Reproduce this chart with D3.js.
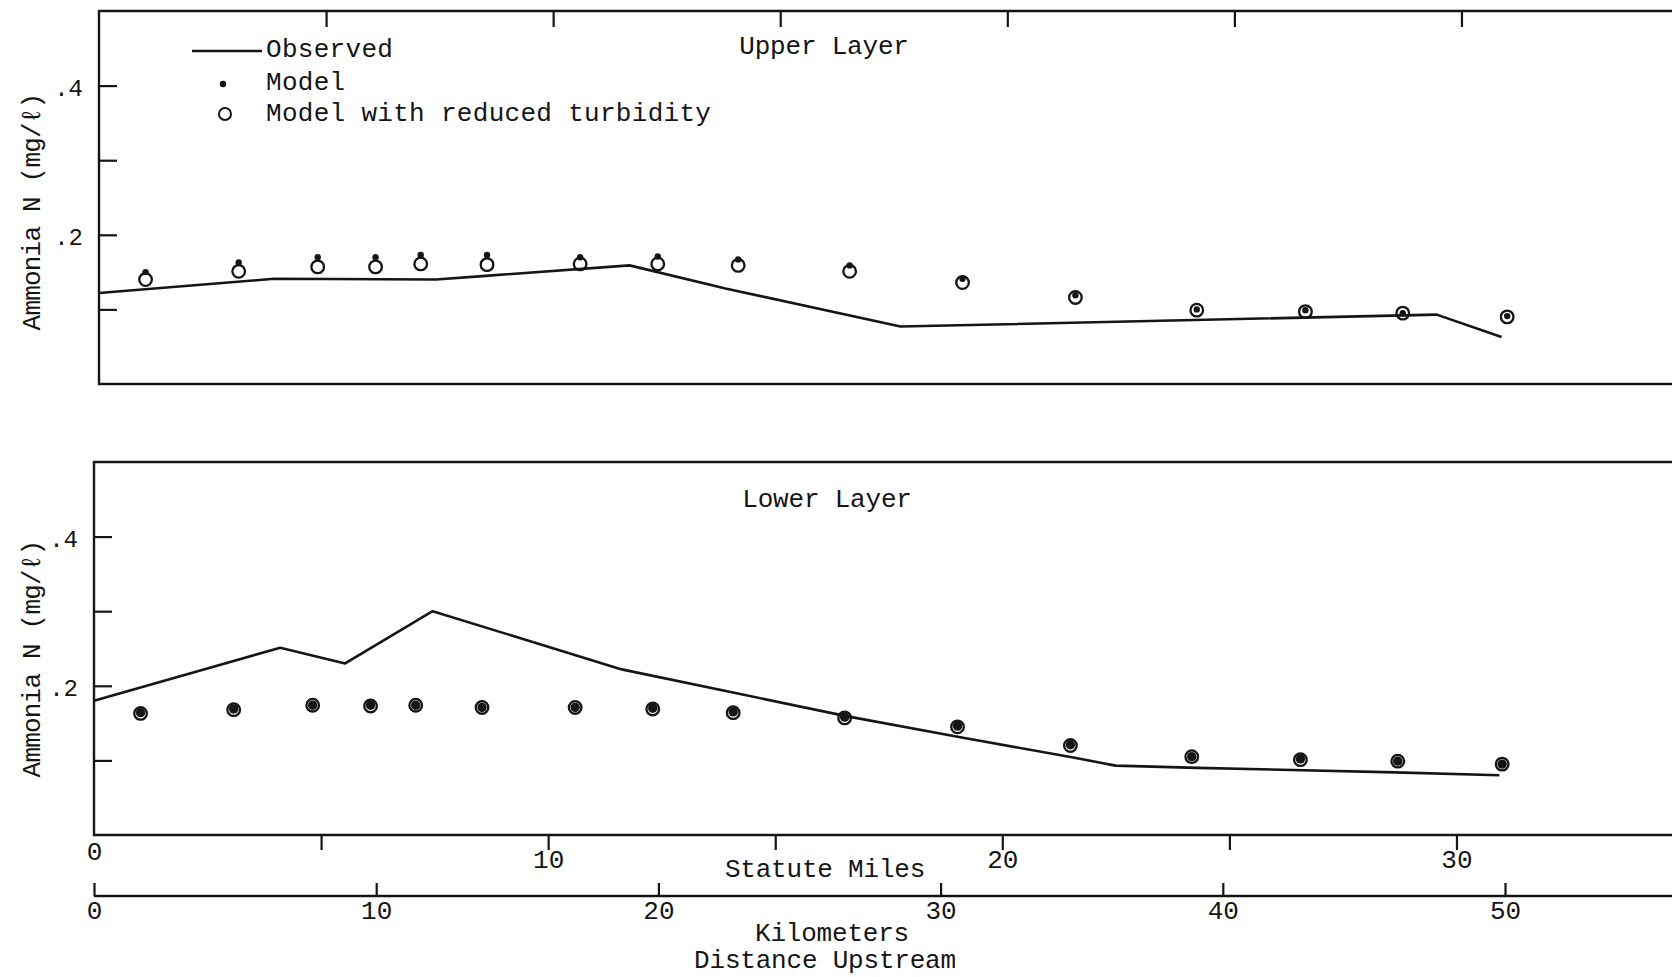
<!DOCTYPE html>
<html>
<head>
<meta charset="utf-8">
<script src="https://cdn.jsdelivr.net/npm/d3@7"></script>
<style>
  html, body { margin: 0; padding: 0; background: #fff; }
  svg { display: block; }
</style>
</head>
<body>
<svg id="chart" width="1672" height="977"></svg>
<script>
// Sampling stations, distance upstream in kilometers
const stationKm = [1.65, 4.95, 7.75, 9.8, 11.4, 13.75, 17.05, 19.8, 22.65, 26.6, 30.6, 34.6, 38.9, 42.75, 46.2, 49.9];

// Upper layer ammonia N (mg/l)
const upperModel   = [0.150, 0.163, 0.170, 0.170, 0.173, 0.173, 0.170, 0.171, 0.167, 0.159, 0.141, 0.119, 0.100, 0.099, 0.095, 0.091];
const upperReduced = [0.140, 0.151, 0.157, 0.157, 0.161, 0.160, 0.161, 0.161, 0.159, 0.151, 0.136, 0.116, 0.099, 0.097, 0.095, 0.090];
const upperObsKm   = [0, 6.2, 11.95, 13.7, 18.8, 22.2, 28.4, 47.4, 49.7];
const upperObs     = [0.122, 0.141, 0.140, 0.145, 0.159, 0.128, 0.077, 0.093, 0.063];

// Lower layer ammonia N (mg/l)
const lowerModel   = [0.164, 0.169, 0.174, 0.174, 0.174, 0.171, 0.171, 0.170, 0.165, 0.158, 0.146, 0.121, 0.105, 0.102, 0.099, 0.095];
const lowerReduced = [0.163, 0.168, 0.174, 0.173, 0.174, 0.171, 0.171, 0.169, 0.164, 0.157, 0.145, 0.120, 0.105, 0.101, 0.099, 0.095];
const lowerObsKm   = [0, 6.6, 8.9, 12.0, 18.7, 22.9, 26.7, 30.7, 34.7, 36.2, 39.1, 46.1, 49.8];
const lowerObs     = [0.180, 0.251, 0.230, 0.300, 0.222, 0.189, 0.159, 0.131, 0.104, 0.093, 0.090, 0.084, 0.080];

// Axis ticks and labels
const yTicks = [0.1, 0.2, 0.3, 0.4];
const yTickLabels = ["", ".2", "", ".4"];
const mileTicks = [0, 5, 10, 15, 20, 25, 30];
const mileTickLabels = ["0", "", "10", "", "20", "", "30"];
const kmTicks = [0, 10, 20, 30, 40, 50];
const kmTickLabels = ["0", "10", "20", "30", "40", "50"];

const W = 1672, H = 977;
const ink = "#151515";
const FONT = "'Liberation Mono', 'DejaVu Sans Mono', monospace";
const FS = 26;
const KM_PER_MILE = 1.609344;

const svg = d3.select("#chart");
svg.append("rect").attr("width", W).attr("height", H).attr("fill", "#fff");

// Distance scales shared by both panels (panel-local pixels)
const xKm = d3.scaleLinear().domain([0, 50]).range([0, 1411]);
const xMi = d3.scaleLinear().domain([0, 50 / KM_PER_MILE]).range([0, 1411]);

function styleAxis(ag, strokeW) {
  ag.attr("font-family", FONT).attr("font-size", FS);
  ag.select(".domain").remove();
  ag.selectAll(".tick line").attr("stroke", ink).attr("stroke-width", strokeW);
  ag.selectAll(".tick text").attr("fill", ink);
}

function drawPanel(cfg) {
  const h = cfg.bottom - cfg.top;
  const right = W - cfg.left;
  const g = svg.append("g").attr("transform", `translate(${cfg.left},${cfg.top})`);
  const y = d3.scaleLinear().domain([0, 0.5]).range([h, 0]);

  // open frame: top, left and bottom edges running off to the right
  g.append("path")
    .attr("d", `M${right},0H0V${h}H${right}`)
    .attr("fill", "none").attr("stroke", ink).attr("stroke-width", 2.4);

  // inward y ticks
  const ya = g.append("g").call(
    d3.axisLeft(y).tickValues(yTicks).tickSize(-18).tickPadding(16)
      .tickFormat((d, i) => yTickLabels[i]));
  styleAxis(ya, 2.2);
  ya.selectAll(".tick text").attr("dy", "0.42em").attr("font-size", 24);

  // mile ticks hanging from the top edge
  if (cfg.topTicks) {
    const ta = g.append("g").call(
      d3.axisTop(xMi).tickValues(mileTicks.slice(1)).tickSize(-16).tickFormat(""));
    styleAxis(ta, 2.2);
  }

  // vertical axis title
  g.append("text")
    .attr("transform", `translate(${cfg.yTitleX - cfg.left},${cfg.yTitleY - cfg.top}) rotate(-90)`)
    .attr("text-anchor", "middle")
    .attr("font-family", FONT).attr("font-size", FS).attr("letter-spacing", -0.8)
    .attr("fill", ink)
    .text("Ammonia N (mg/\u2113)");

  // panel title
  g.append("text")
    .attr("x", cfg.titleX - cfg.left).attr("y", cfg.titleY - cfg.top)
    .attr("text-anchor", "middle")
    .attr("font-family", FONT).attr("font-size", FS).attr("letter-spacing", -0.2)
    .attr("fill", ink)
    .text(cfg.title);

  // observed profile
  const line = d3.line().x(d => xKm(d[0])).y(d => y(d[1]));
  g.append("path")
    .datum(cfg.obsKm.map((k, i) => [k, cfg.obs[i]]))
    .attr("d", line)
    .attr("fill", "none").attr("stroke", ink)
    .attr("stroke-width", 2.6).attr("stroke-linejoin", "round");

  // model with reduced turbidity (open circles)
  g.append("g").selectAll("circle")
    .data(stationKm.map((k, i) => [k, cfg.reduced[i]]))
    .join("circle")
    .attr("cx", d => xKm(d[0])).attr("cy", d => y(d[1]))
    .attr("r", 6.3)
    .attr("fill", "none").attr("stroke", ink).attr("stroke-width", 2.3);

  // model (filled dots)
  g.append("g").selectAll("circle")
    .data(stationKm.map((k, i) => [k, cfg.model[i]]))
    .join("circle")
    .attr("cx", d => xKm(d[0])).attr("cy", d => y(d[1]))
    .attr("r", cfg.dotR)
    .attr("fill", ink);
}

drawPanel({
  left: 99, top: 11, bottom: 384,
  title: "Upper Layer", titleX: 824, titleY: 54,
  yTitleX: 40, yTitleY: 212,
  topTicks: true,
  obsKm: upperObsKm, obs: upperObs,
  model: upperModel, reduced: upperReduced, dotR: 3.2
});

drawPanel({
  left: 94, top: 462, bottom: 835,
  title: "Lower Layer", titleX: 827, titleY: 507,
  yTitleX: 40, yTitleY: 659,
  topTicks: false,
  obsKm: lowerObsKm, obs: lowerObs,
  model: lowerModel, reduced: lowerReduced, dotR: 4.7
});

// Legend
const leg = svg.append("g").attr("font-family", FONT).attr("font-size", FS).attr("fill", ink);
leg.append("line").attr("x1", 192).attr("x2", 262).attr("y1", 51).attr("y2", 51)
  .attr("stroke", ink).attr("stroke-width", 2.4);
leg.append("text").attr("x", 266).attr("y", 57).attr("letter-spacing", 0.3).text("Observed");
leg.append("circle").attr("cx", 223).attr("cy", 84).attr("r", 3.2).attr("fill", ink);
leg.append("text").attr("x", 266).attr("y", 90).attr("letter-spacing", 0.3).text("Model");
leg.append("circle").attr("cx", 225).attr("cy", 114).attr("r", 6)
  .attr("fill", "none").attr("stroke", ink).attr("stroke-width", 2);
leg.append("text").attr("x", 266).attr("y", 121).attr("letter-spacing", 0.3).text("Model with reduced turbidity");

// Statute miles axis (bottom edge of the lower panel)
const miG = svg.append("g").attr("transform", "translate(94,835)");
miG.call(d3.axisBottom(xMi).tickValues(mileTicks).tickSize(15).tickPadding(0)
  .tickFormat((d, i) => mileTickLabels[i]));
styleAxis(miG, 2.2);
miG.selectAll(".tick").filter(d => d === 0).select("line").remove();
miG.selectAll(".tick").filter(d => d === 0).select("text").attr("y", 7);

// Kilometer axis
const kmG = svg.append("g").attr("transform", "translate(94,896)");
kmG.append("line").attr("x1", 0).attr("x2", W - 94).attr("y1", 0).attr("y2", 0)
  .attr("stroke", ink).attr("stroke-width", 2.4);
kmG.call(d3.axisBottom(xKm).tickValues(kmTicks).tickSize(-13).tickPadding(5)
  .tickFormat((d, i) => kmTickLabels[i]));
styleAxis(kmG, 2.2);

// Axis titles
const titles = [
  { text: "Statute Miles", x: 825, y: 877 },
  { text: "Kilometers", x: 832, y: 941 },
  { text: "Distance Upstream", x: 825, y: 968 }
];
svg.append("g").selectAll("text").data(titles).join("text")
  .attr("x", d => d.x).attr("y", d => d.y)
  .attr("text-anchor", "middle")
  .attr("font-family", FONT).attr("font-size", FS).attr("letter-spacing", -0.2)
  .attr("fill", ink)
  .text(d => d.text);
</script>
</body>
</html>
